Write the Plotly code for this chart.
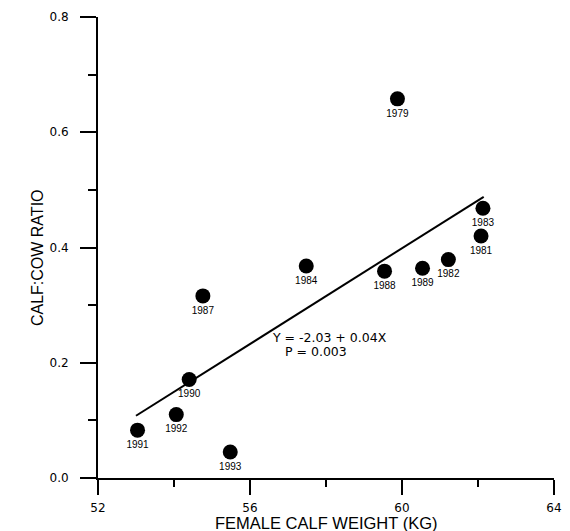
import plotly.graph_objects as go

# Data
years = ["1979", "1983", "1981", "1982", "1989", "1988", "1984", "1987", "1990", "1992", "1991", "1993"]
calf_weight = [59.88, 62.13, 62.08, 61.22, 60.54, 59.54, 57.48, 54.76, 54.40, 54.06, 53.04, 55.48]
calf_cow_ratio = [0.658, 0.468, 0.420, 0.379, 0.364, 0.359, 0.368, 0.316, 0.171, 0.110, 0.083, 0.045]

# Regression line end points as drawn
fit_x = [53.0, 62.15]
fit_y = [0.108, 0.488]

eq_text = "Y = -2.03 + 0.04X"
p_text = "P = 0.003"

x_ticks = [52, 56, 60, 64]
y_ticks = [0.0, 0.2, 0.4, 0.6, 0.8]

fig = go.Figure()

fig.add_trace(go.Scatter(
    x=fit_x, y=fit_y, mode="lines",
    line=dict(color="black", width=2),
    showlegend=False, hoverinfo="skip",
))

fig.add_trace(go.Scatter(
    x=calf_weight, y=calf_cow_ratio, mode="markers+text",
    marker=dict(color="black", size=15),
    text=years, textposition="bottom center",
    textfont=dict(family="Liberation Sans", size=10, color="black"),
    showlegend=False,
))

fig.add_annotation(x=56.52, y=0.243, xref="x", yref="y", text=eq_text,
                   showarrow=False, xanchor="left", yanchor="middle",
                   font=dict(family="DejaVu Sans", size=12.5, color="black"))
fig.add_annotation(x=56.88, y=0.219, xref="x", yref="y", text=p_text,
                   showarrow=False, xanchor="left", yanchor="middle",
                   font=dict(family="DejaVu Sans", size=12.5, color="black"))

fig.add_annotation(x=0.5, y=-0.0976, xref="paper", yref="paper",
                   text="FEMALE CALF WEIGHT (KG)", showarrow=False,
                   xanchor="center", yanchor="middle",
                   font=dict(family="Liberation Sans", size=16.5, color="black"))
fig.add_annotation(x=-0.134, y=0.479, xref="paper", yref="paper",
                   text="CALF:COW RATIO", showarrow=False, textangle=-90,
                   xanchor="center", yanchor="middle",
                   font=dict(family="Liberation Sans", size=16, color="black"))

fig.update_xaxes(
    range=[52, 64], tickvals=x_ticks, ticktext=[str(v) for v in x_ticks],
    showgrid=False, zeroline=False, showline=True, linecolor="black", linewidth=2,
    ticks="outside", ticklen=15, tickwidth=2, tickcolor="black",
    minor=dict(dtick=2, ticks="outside", ticklen=7, tickwidth=2, tickcolor="black", showgrid=False),
    tickfont=dict(family="DejaVu Sans", size=12, color="black"),
    ticklabelstandoff=3,
)
fig.update_yaxes(
    range=[0, 0.8], tickvals=y_ticks, ticktext=["%.1f" % v for v in y_ticks],
    showgrid=False, zeroline=False, showline=True, linecolor="black", linewidth=2,
    ticks="outside", ticklen=16, tickwidth=2, tickcolor="black",
    minor=dict(dtick=0.1, ticks="outside", ticklen=8, tickwidth=2, tickcolor="black", showgrid=False),
    tickfont=dict(family="DejaVu Sans", size=12, color="black"),
    ticklabelstandoff=9,
)

fig.update_layout(
    width=570, height=531,
    margin=dict(l=98, r=8, t=17, b=53),
    plot_bgcolor="white", paper_bgcolor="white",
)

fig.write_html("out.html")
